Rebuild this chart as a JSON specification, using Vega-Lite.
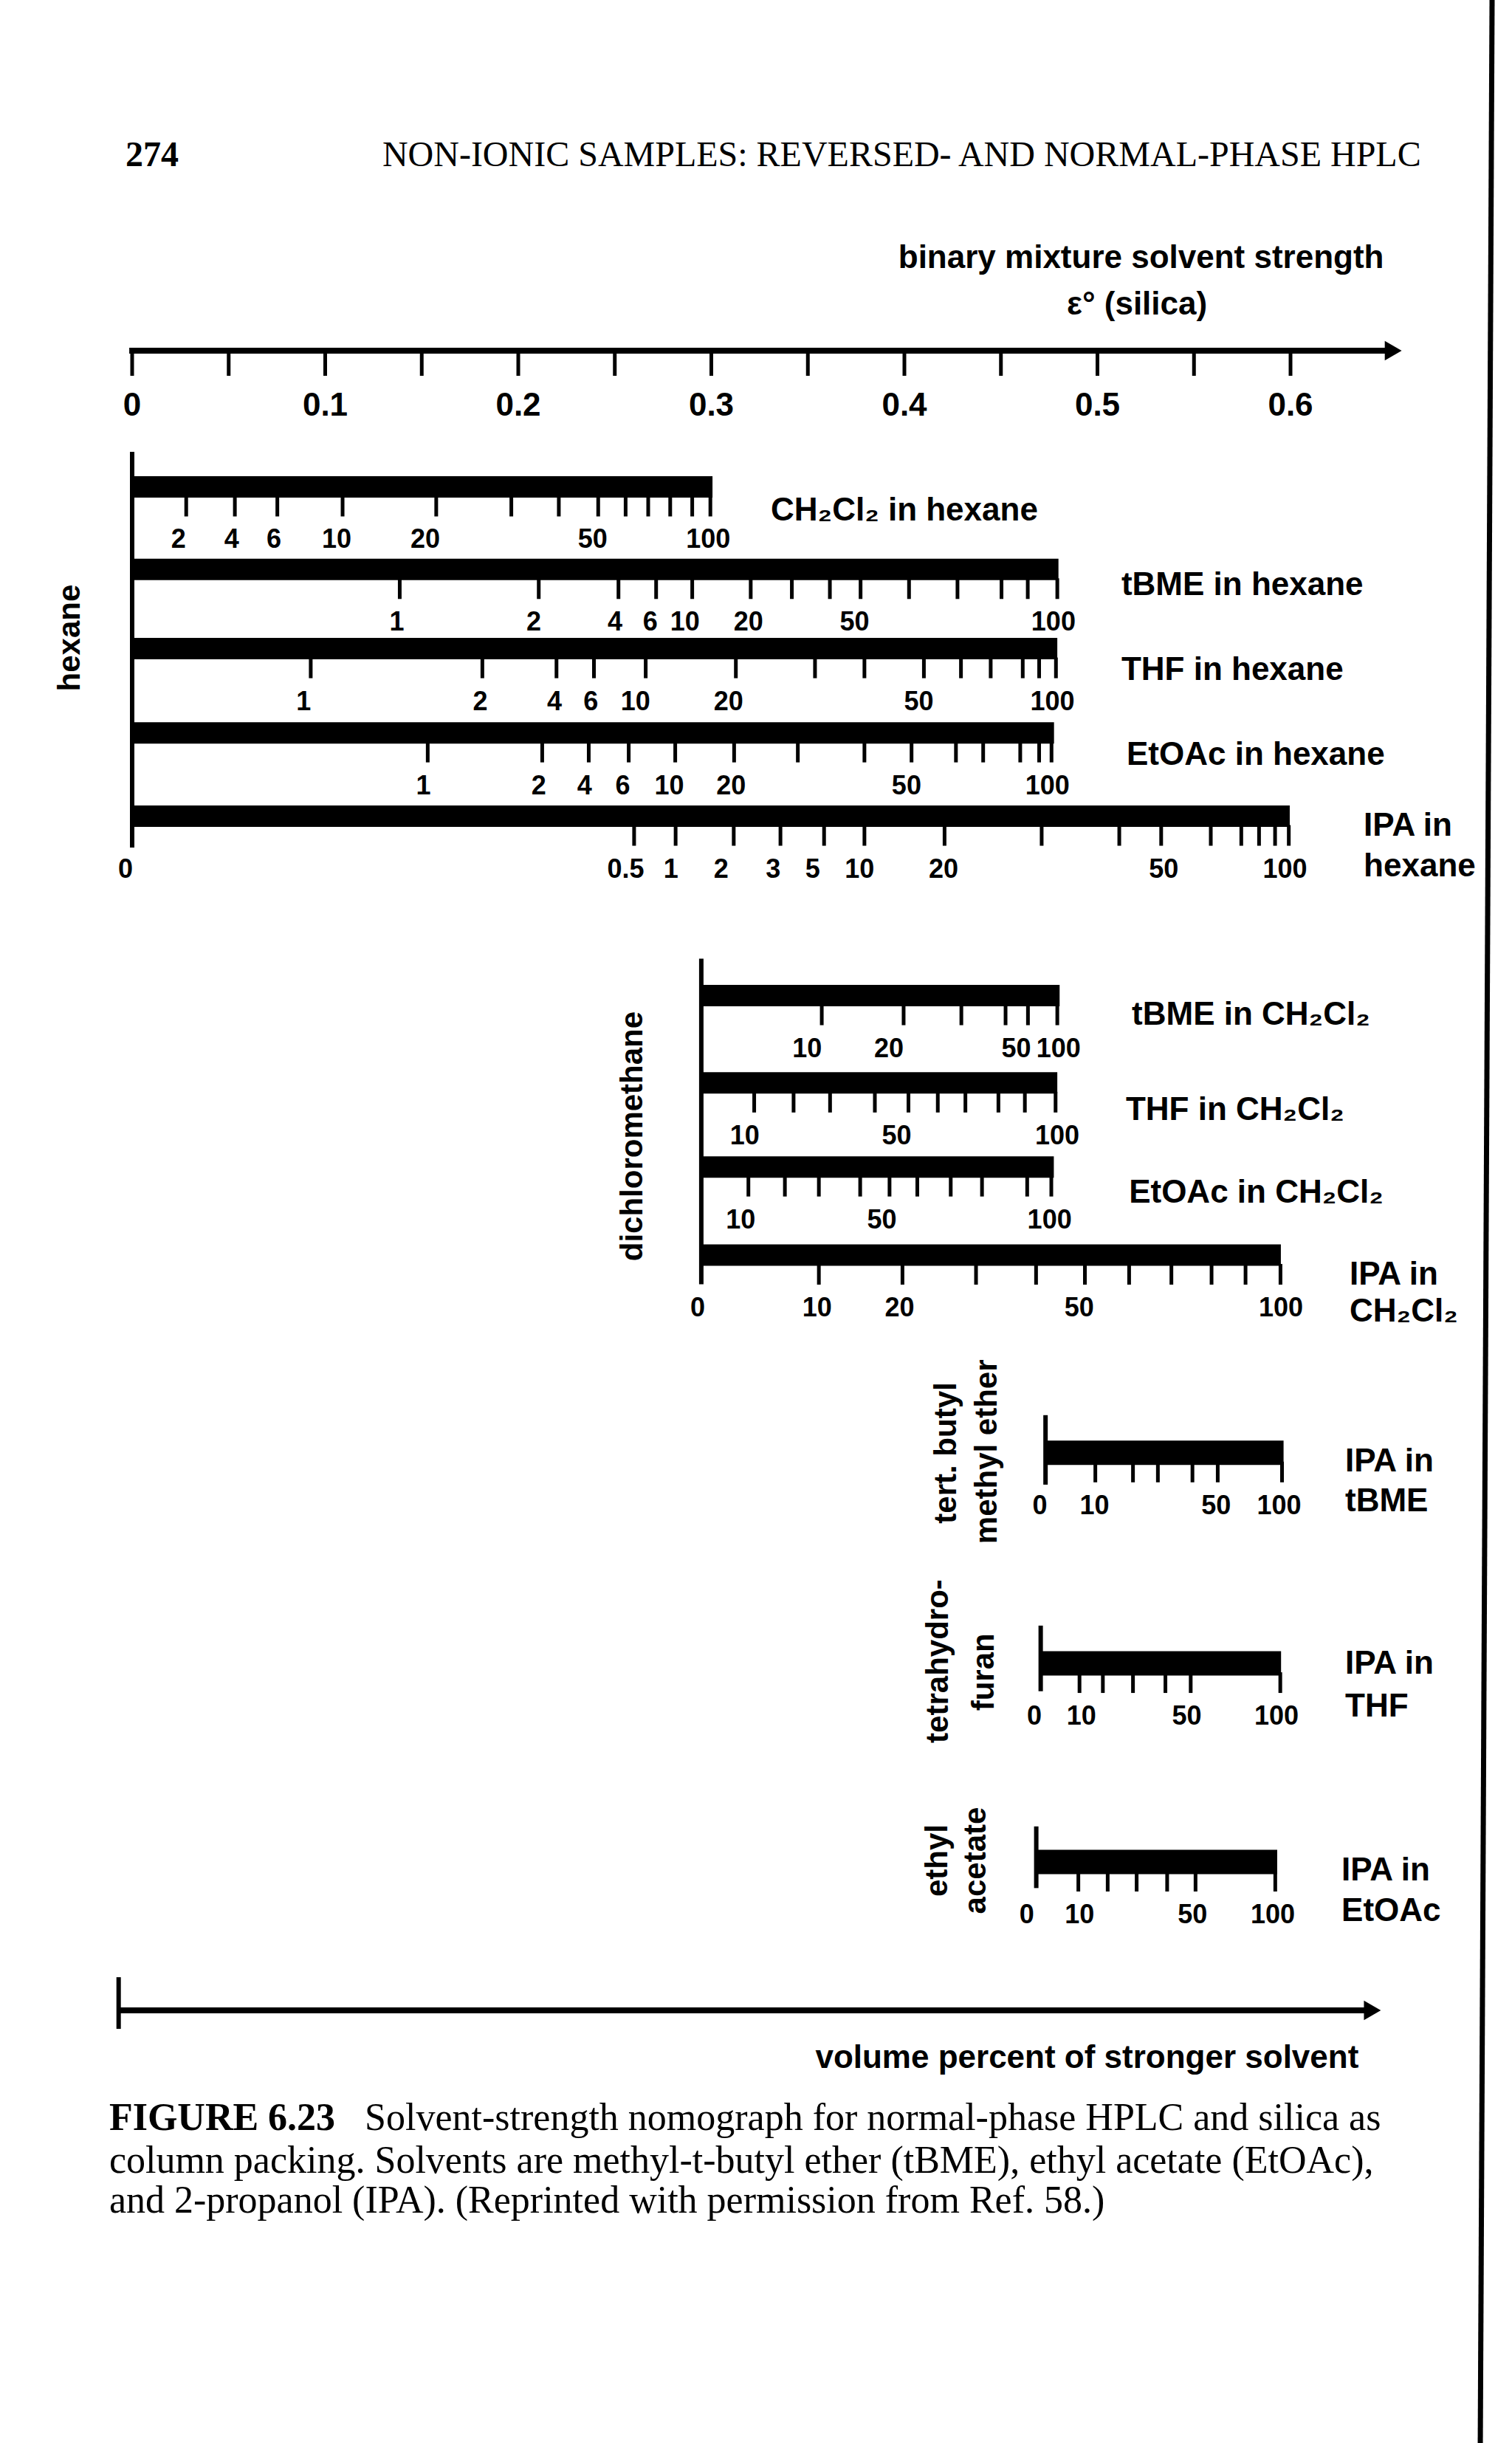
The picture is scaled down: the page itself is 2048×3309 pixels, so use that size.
{
  "$schema": "https://vega.github.io/schema/vega-lite/v6.json",
  "width": 2048,
  "height": 3309,
  "autosize": {"type": "none"},
  "padding": 0,
  "background": "white",
  "config": {"view": {"stroke": null}},
  "datasets": {
    "bars": [
      {"series": "CH2Cl2 in hexane", "eps": 0, "eps2": 0.3006, "row": 1},
      {"series": "tBME in hexane", "eps": 0, "eps2": 0.4798, "row": 2},
      {"series": "THF in hexane", "eps": 0, "eps2": 0.4792, "row": 2.96},
      {"series": "EtOAc in hexane", "eps": 0, "eps2": 0.4775, "row": 3.98},
      {"series": "IPA in hexane", "eps": 0, "eps2": 0.5996, "row": 4.99},
      {"series": "tBME in CH2Cl2", "eps": 0.2948, "eps2": 0.4804, "row": 7.164},
      {"series": "THF in CH2Cl2", "eps": 0.2948, "eps2": 0.4792, "row": 8.222},
      {"series": "EtOAc in CH2Cl2", "eps": 0.2948, "eps2": 0.4774, "row": 9.24},
      {"series": "IPA in CH2Cl2", "eps": 0.2948, "eps2": 0.595, "row": 10.308},
      {"series": "IPA in tBME", "eps": 0.4731, "eps2": 0.5964, "row": 12.703},
      {"series": "IPA in THF", "eps": 0.4706, "eps2": 0.5951, "row": 15.255},
      {"series": "IPA in EtOAc", "eps": 0.4683, "eps2": 0.5931, "row": 17.661}
    ],
    "sections": [
      {"solvent": "hexane", "eps": 0, "row": 0.575, "row2": 5.37},
      {"solvent": "dichloromethane", "eps": 0.2948, "row": 6.717, "row2": 10.662},
      {"solvent": "tBME", "eps": 0.4731, "row": 12.247, "row2": 13.089},
      {"solvent": "THF", "eps": 0.4706, "row": 14.797, "row2": 15.592},
      {"solvent": "EtOAc", "eps": 0.4683, "row": 17.23, "row2": 17.977}
    ],
    "ticks": [
      {"series": "CH2Cl2 in hexane", "pct": 2, "eps": 0.028, "row": 1},
      {"series": "CH2Cl2 in hexane", "pct": 4, "eps": 0.0532, "row": 1},
      {"series": "CH2Cl2 in hexane", "pct": 6, "eps": 0.0752, "row": 1},
      {"series": "CH2Cl2 in hexane", "pct": 10, "eps": 0.109, "row": 1},
      {"series": "CH2Cl2 in hexane", "pct": 20, "eps": 0.1575, "row": 1},
      {"series": "CH2Cl2 in hexane", "pct": 30, "eps": 0.1964, "row": 1},
      {"series": "CH2Cl2 in hexane", "pct": 40, "eps": 0.221, "row": 1},
      {"series": "CH2Cl2 in hexane", "pct": 50, "eps": 0.2414, "row": 1},
      {"series": "CH2Cl2 in hexane", "pct": 60, "eps": 0.2556, "row": 1},
      {"series": "CH2Cl2 in hexane", "pct": 70, "eps": 0.2673, "row": 1},
      {"series": "CH2Cl2 in hexane", "pct": 80, "eps": 0.2787, "row": 1},
      {"series": "CH2Cl2 in hexane", "pct": 90, "eps": 0.2901, "row": 1},
      {"series": "CH2Cl2 in hexane", "pct": 100, "eps": 0.2995, "row": 1},
      {"series": "tBME in hexane", "pct": 1, "eps": 0.1386, "row": 2},
      {"series": "tBME in hexane", "pct": 2, "eps": 0.2106, "row": 2},
      {"series": "tBME in hexane", "pct": 4, "eps": 0.2519, "row": 2},
      {"series": "tBME in hexane", "pct": 6, "eps": 0.2714, "row": 2},
      {"series": "tBME in hexane", "pct": 10, "eps": 0.2901, "row": 2},
      {"series": "tBME in hexane", "pct": 20, "eps": 0.3204, "row": 2},
      {"series": "tBME in hexane", "pct": 30, "eps": 0.3417, "row": 2},
      {"series": "tBME in hexane", "pct": 40, "eps": 0.3614, "row": 2},
      {"series": "tBME in hexane", "pct": 50, "eps": 0.3773, "row": 2},
      {"series": "tBME in hexane", "pct": 60, "eps": 0.4024, "row": 2},
      {"series": "tBME in hexane", "pct": 70, "eps": 0.4275, "row": 2},
      {"series": "tBME in hexane", "pct": 80, "eps": 0.4503, "row": 2},
      {"series": "tBME in hexane", "pct": 90, "eps": 0.4639, "row": 2},
      {"series": "tBME in hexane", "pct": 100, "eps": 0.4792, "row": 2},
      {"series": "THF in hexane", "pct": 1, "eps": 0.0925, "row": 2.96},
      {"series": "THF in hexane", "pct": 2, "eps": 0.1814, "row": 2.96},
      {"series": "THF in hexane", "pct": 4, "eps": 0.2198, "row": 2.96},
      {"series": "THF in hexane", "pct": 6, "eps": 0.2392, "row": 2.96},
      {"series": "THF in hexane", "pct": 10, "eps": 0.266, "row": 2.96},
      {"series": "THF in hexane", "pct": 20, "eps": 0.3127, "row": 2.96},
      {"series": "THF in hexane", "pct": 30, "eps": 0.3537, "row": 2.96},
      {"series": "THF in hexane", "pct": 40, "eps": 0.3793, "row": 2.96},
      {"series": "THF in hexane", "pct": 50, "eps": 0.4101, "row": 2.96},
      {"series": "THF in hexane", "pct": 60, "eps": 0.4293, "row": 2.96},
      {"series": "THF in hexane", "pct": 70, "eps": 0.4447, "row": 2.96},
      {"series": "THF in hexane", "pct": 80, "eps": 0.4613, "row": 2.96},
      {"series": "THF in hexane", "pct": 90, "eps": 0.4698, "row": 2.96},
      {"series": "THF in hexane", "pct": 100, "eps": 0.4785, "row": 2.96},
      {"series": "EtOAc in hexane", "pct": 1, "eps": 0.1531, "row": 3.98},
      {"series": "EtOAc in hexane", "pct": 2, "eps": 0.2124, "row": 3.98},
      {"series": "EtOAc in hexane", "pct": 4, "eps": 0.2365, "row": 3.98},
      {"series": "EtOAc in hexane", "pct": 6, "eps": 0.2572, "row": 3.98},
      {"series": "EtOAc in hexane", "pct": 10, "eps": 0.2813, "row": 3.98},
      {"series": "EtOAc in hexane", "pct": 20, "eps": 0.3118, "row": 3.98},
      {"series": "EtOAc in hexane", "pct": 30, "eps": 0.3448, "row": 3.98},
      {"series": "EtOAc in hexane", "pct": 40, "eps": 0.3793, "row": 3.98},
      {"series": "EtOAc in hexane", "pct": 50, "eps": 0.4037, "row": 3.98},
      {"series": "EtOAc in hexane", "pct": 60, "eps": 0.4267, "row": 3.98},
      {"series": "EtOAc in hexane", "pct": 70, "eps": 0.4408, "row": 3.98},
      {"series": "EtOAc in hexane", "pct": 80, "eps": 0.46, "row": 3.98},
      {"series": "EtOAc in hexane", "pct": 90, "eps": 0.4698, "row": 3.98},
      {"series": "EtOAc in hexane", "pct": 100, "eps": 0.4762, "row": 3.98},
      {"series": "IPA in hexane", "pct": 0.5, "eps": 0.26, "row": 4.99},
      {"series": "IPA in hexane", "pct": 1, "eps": 0.2815, "row": 4.99},
      {"series": "IPA in hexane", "pct": 2, "eps": 0.3116, "row": 4.99},
      {"series": "IPA in hexane", "pct": 3, "eps": 0.3358, "row": 4.99},
      {"series": "IPA in hexane", "pct": 5, "eps": 0.3584, "row": 4.99},
      {"series": "IPA in hexane", "pct": 10, "eps": 0.3793, "row": 4.99},
      {"series": "IPA in hexane", "pct": 20, "eps": 0.4208, "row": 4.99},
      {"series": "IPA in hexane", "pct": 30, "eps": 0.4711, "row": 4.99},
      {"series": "IPA in hexane", "pct": 40, "eps": 0.5113, "row": 4.99},
      {"series": "IPA in hexane", "pct": 50, "eps": 0.533, "row": 4.99},
      {"series": "IPA in hexane", "pct": 60, "eps": 0.5587, "row": 4.99},
      {"series": "IPA in hexane", "pct": 70, "eps": 0.5745, "row": 4.99},
      {"series": "IPA in hexane", "pct": 80, "eps": 0.5837, "row": 4.99},
      {"series": "IPA in hexane", "pct": 90, "eps": 0.592, "row": 4.99},
      {"series": "IPA in hexane", "pct": 100, "eps": 0.5991, "row": 4.99},
      {"series": "tBME in CH2Cl2", "pct": 10, "eps": 0.3572, "row": 7.164},
      {"series": "tBME in CH2Cl2", "pct": 20, "eps": 0.3996, "row": 7.164},
      {"series": "tBME in CH2Cl2", "pct": 30, "eps": 0.4295, "row": 7.164},
      {"series": "tBME in CH2Cl2", "pct": 40, "eps": 0.4524, "row": 7.164},
      {"series": "tBME in CH2Cl2", "pct": 50, "eps": 0.464, "row": 7.164},
      {"series": "tBME in CH2Cl2", "pct": 100, "eps": 0.4792, "row": 7.164},
      {"series": "THF in CH2Cl2", "pct": 10, "eps": 0.3222, "row": 8.222},
      {"series": "THF in CH2Cl2", "pct": 20, "eps": 0.3426, "row": 8.222},
      {"series": "THF in CH2Cl2", "pct": 30, "eps": 0.3615, "row": 8.222},
      {"series": "THF in CH2Cl2", "pct": 40, "eps": 0.3847, "row": 8.222},
      {"series": "THF in CH2Cl2", "pct": 50, "eps": 0.4021, "row": 8.222},
      {"series": "THF in CH2Cl2", "pct": 60, "eps": 0.4173, "row": 8.222},
      {"series": "THF in CH2Cl2", "pct": 70, "eps": 0.4316, "row": 8.222},
      {"series": "THF in CH2Cl2", "pct": 80, "eps": 0.4487, "row": 8.222},
      {"series": "THF in CH2Cl2", "pct": 90, "eps": 0.4624, "row": 8.222},
      {"series": "THF in CH2Cl2", "pct": 100, "eps": 0.4783, "row": 8.222},
      {"series": "EtOAc in CH2Cl2", "pct": 10, "eps": 0.3192, "row": 9.24},
      {"series": "EtOAc in CH2Cl2", "pct": 20, "eps": 0.3381, "row": 9.24},
      {"series": "EtOAc in CH2Cl2", "pct": 30, "eps": 0.3557, "row": 9.24},
      {"series": "EtOAc in CH2Cl2", "pct": 40, "eps": 0.3771, "row": 9.24},
      {"series": "EtOAc in CH2Cl2", "pct": 50, "eps": 0.3923, "row": 9.24},
      {"series": "EtOAc in CH2Cl2", "pct": 60, "eps": 0.4067, "row": 9.24},
      {"series": "EtOAc in CH2Cl2", "pct": 70, "eps": 0.424, "row": 9.24},
      {"series": "EtOAc in CH2Cl2", "pct": 80, "eps": 0.4402, "row": 9.24},
      {"series": "EtOAc in CH2Cl2", "pct": 90, "eps": 0.4636, "row": 9.24},
      {"series": "EtOAc in CH2Cl2", "pct": 100, "eps": 0.4761, "row": 9.24},
      {"series": "IPA in CH2Cl2", "pct": 10, "eps": 0.3557, "row": 10.308},
      {"series": "IPA in CH2Cl2", "pct": 20, "eps": 0.399, "row": 10.308},
      {"series": "IPA in CH2Cl2", "pct": 30, "eps": 0.4371, "row": 10.308},
      {"series": "IPA in CH2Cl2", "pct": 40, "eps": 0.4682, "row": 10.308},
      {"series": "IPA in CH2Cl2", "pct": 50, "eps": 0.4935, "row": 10.308},
      {"series": "IPA in CH2Cl2", "pct": 60, "eps": 0.5164, "row": 10.308},
      {"series": "IPA in CH2Cl2", "pct": 70, "eps": 0.5383, "row": 10.308},
      {"series": "IPA in CH2Cl2", "pct": 80, "eps": 0.5591, "row": 10.308},
      {"series": "IPA in CH2Cl2", "pct": 90, "eps": 0.5767, "row": 10.308},
      {"series": "IPA in CH2Cl2", "pct": 100, "eps": 0.5948, "row": 10.308},
      {"series": "IPA in tBME", "pct": 10, "eps": 0.4989, "row": 12.703},
      {"series": "IPA in tBME", "pct": 20, "eps": 0.5184, "row": 12.703},
      {"series": "IPA in tBME", "pct": 30, "eps": 0.5313, "row": 12.703},
      {"series": "IPA in tBME", "pct": 40, "eps": 0.5492, "row": 12.703},
      {"series": "IPA in tBME", "pct": 50, "eps": 0.5623, "row": 12.703},
      {"series": "IPA in tBME", "pct": 100, "eps": 0.5956, "row": 12.703},
      {"series": "IPA in THF", "pct": 10, "eps": 0.4907, "row": 15.255},
      {"series": "IPA in THF", "pct": 20, "eps": 0.5028, "row": 15.255},
      {"series": "IPA in THF", "pct": 30, "eps": 0.5184, "row": 15.255},
      {"series": "IPA in THF", "pct": 40, "eps": 0.5352, "row": 15.255},
      {"series": "IPA in THF", "pct": 50, "eps": 0.5483, "row": 15.255},
      {"series": "IPA in THF", "pct": 100, "eps": 0.5947, "row": 15.255},
      {"series": "IPA in EtOAc", "pct": 10, "eps": 0.4901, "row": 17.661},
      {"series": "IPA in EtOAc", "pct": 20, "eps": 0.5053, "row": 17.661},
      {"series": "IPA in EtOAc", "pct": 30, "eps": 0.5203, "row": 17.661},
      {"series": "IPA in EtOAc", "pct": 40, "eps": 0.5361, "row": 17.661},
      {"series": "IPA in EtOAc", "pct": 50, "eps": 0.5508, "row": 17.661},
      {"series": "IPA in EtOAc", "pct": 100, "eps": 0.5921, "row": 17.661}
    ],
    "ticklabels": [
      {"series": "CH2Cl2 in hexane", "text": "2", "eps": 0.024, "row": 1},
      {"series": "CH2Cl2 in hexane", "text": "4", "eps": 0.0515, "row": 1},
      {"series": "CH2Cl2 in hexane", "text": "6", "eps": 0.0734, "row": 1},
      {"series": "CH2Cl2 in hexane", "text": "10", "eps": 0.1059, "row": 1},
      {"series": "CH2Cl2 in hexane", "text": "20", "eps": 0.1518, "row": 1},
      {"series": "CH2Cl2 in hexane", "text": "50", "eps": 0.2385, "row": 1},
      {"series": "CH2Cl2 in hexane", "text": "100", "eps": 0.2984, "row": 1},
      {"series": "tBME in hexane", "text": "1", "eps": 0.1371, "row": 2},
      {"series": "tBME in hexane", "text": "2", "eps": 0.208, "row": 2},
      {"series": "tBME in hexane", "text": "4", "eps": 0.2501, "row": 2},
      {"series": "tBME in hexane", "text": "6", "eps": 0.2684, "row": 2},
      {"series": "tBME in hexane", "text": "10", "eps": 0.2863, "row": 2},
      {"series": "tBME in hexane", "text": "20", "eps": 0.3192, "row": 2},
      {"series": "tBME in hexane", "text": "50", "eps": 0.3742, "row": 2},
      {"series": "tBME in hexane", "text": "100", "eps": 0.4772, "row": 2},
      {"series": "THF in hexane", "text": "1", "eps": 0.0888, "row": 2.96},
      {"series": "THF in hexane", "text": "2", "eps": 0.1803, "row": 2.96},
      {"series": "THF in hexane", "text": "4", "eps": 0.2187, "row": 2.96},
      {"series": "THF in hexane", "text": "6", "eps": 0.2376, "row": 2.96},
      {"series": "THF in hexane", "text": "10", "eps": 0.2607, "row": 2.96},
      {"series": "THF in hexane", "text": "20", "eps": 0.3089, "row": 2.96},
      {"series": "THF in hexane", "text": "50", "eps": 0.4075, "row": 2.96},
      {"series": "THF in hexane", "text": "100", "eps": 0.4767, "row": 2.96},
      {"series": "EtOAc in hexane", "text": "1", "eps": 0.1509, "row": 3.98},
      {"series": "EtOAc in hexane", "text": "2", "eps": 0.2106, "row": 3.98},
      {"series": "EtOAc in hexane", "text": "4", "eps": 0.2343, "row": 3.98},
      {"series": "EtOAc in hexane", "text": "6", "eps": 0.2541, "row": 3.98},
      {"series": "EtOAc in hexane", "text": "10", "eps": 0.2782, "row": 3.98},
      {"series": "EtOAc in hexane", "text": "20", "eps": 0.3102, "row": 3.98},
      {"series": "EtOAc in hexane", "text": "50", "eps": 0.4011, "row": 3.98},
      {"series": "EtOAc in hexane", "text": "100", "eps": 0.4741, "row": 3.98},
      {"series": "IPA in hexane", "text": "0", "eps": -0.0034, "row": 4.99},
      {"series": "IPA in hexane", "text": "0.5", "eps": 0.2556, "row": 4.99},
      {"series": "IPA in hexane", "text": "1", "eps": 0.2791, "row": 4.99},
      {"series": "IPA in hexane", "text": "2", "eps": 0.3051, "row": 4.99},
      {"series": "IPA in hexane", "text": "3", "eps": 0.332, "row": 4.99},
      {"series": "IPA in hexane", "text": "5", "eps": 0.3525, "row": 4.99},
      {"series": "IPA in hexane", "text": "10", "eps": 0.3768, "row": 4.99},
      {"series": "IPA in hexane", "text": "20", "eps": 0.4203, "row": 4.99},
      {"series": "IPA in hexane", "text": "50", "eps": 0.5343, "row": 4.99},
      {"series": "IPA in hexane", "text": "100", "eps": 0.5971, "row": 4.99},
      {"series": "tBME in CH2Cl2", "text": "10", "eps": 0.3496, "row": 7.164},
      {"series": "tBME in CH2Cl2", "text": "20", "eps": 0.392, "row": 7.164},
      {"series": "tBME in CH2Cl2", "text": "50", "eps": 0.4579, "row": 7.164},
      {"series": "tBME in CH2Cl2", "text": "100", "eps": 0.4798, "row": 7.164},
      {"series": "THF in CH2Cl2", "text": "10", "eps": 0.3173, "row": 8.222},
      {"series": "THF in CH2Cl2", "text": "50", "eps": 0.396, "row": 8.222},
      {"series": "THF in CH2Cl2", "text": "100", "eps": 0.4792, "row": 8.222},
      {"series": "EtOAc in CH2Cl2", "text": "10", "eps": 0.3152, "row": 9.24},
      {"series": "EtOAc in CH2Cl2", "text": "50", "eps": 0.3883, "row": 9.24},
      {"series": "EtOAc in CH2Cl2", "text": "100", "eps": 0.4752, "row": 9.24},
      {"series": "IPA in CH2Cl2", "text": "0", "eps": 0.2929, "row": 10.308},
      {"series": "IPA in CH2Cl2", "text": "10", "eps": 0.3548, "row": 10.308},
      {"series": "IPA in CH2Cl2", "text": "20", "eps": 0.3975, "row": 10.308},
      {"series": "IPA in CH2Cl2", "text": "50", "eps": 0.4905, "row": 10.308},
      {"series": "IPA in CH2Cl2", "text": "100", "eps": 0.595, "row": 10.308},
      {"series": "IPA in tBME", "text": "0", "eps": 0.4702, "row": 12.703},
      {"series": "IPA in tBME", "text": "10", "eps": 0.4985, "row": 12.703},
      {"series": "IPA in tBME", "text": "50", "eps": 0.5615, "row": 12.703},
      {"series": "IPA in tBME", "text": "100", "eps": 0.5941, "row": 12.703},
      {"series": "IPA in THF", "text": "0", "eps": 0.4673, "row": 15.255},
      {"series": "IPA in THF", "text": "10", "eps": 0.4917, "row": 15.255},
      {"series": "IPA in THF", "text": "50", "eps": 0.5463, "row": 15.255},
      {"series": "IPA in THF", "text": "100", "eps": 0.5927, "row": 15.255},
      {"series": "IPA in EtOAc", "text": "0", "eps": 0.4634, "row": 17.661},
      {"series": "IPA in EtOAc", "text": "10", "eps": 0.4907, "row": 17.661},
      {"series": "IPA in EtOAc", "text": "50", "eps": 0.5492, "row": 17.661},
      {"series": "IPA in EtOAc", "text": "100", "eps": 0.5908, "row": 17.661}
    ],
    "sidelabels": [
      {"text": "CH₂Cl₂  in hexane", "eps": 0.3308, "row": 1.291},
      {"text": "tBME in hexane", "eps": 0.5124, "row": 2.195},
      {"text": "THF in hexane", "eps": 0.5124, "row": 3.224},
      {"text": "EtOAc in hexane", "eps": 0.5151, "row": 4.253},
      {"text": "IPA in", "eps": 0.6379, "row": 5.111},
      {"text": "hexane", "eps": 0.6379, "row": 5.6},
      {"text": "tBME in CH₂Cl₂", "eps": 0.5178, "row": 7.4},
      {"text": "THF in CH₂Cl₂", "eps": 0.5147, "row": 8.554},
      {"text": "EtOAc in CH₂Cl₂", "eps": 0.5163, "row": 9.556},
      {"text": "IPA in", "eps": 0.6306, "row": 10.549},
      {"text": "CH₂Cl₂", "eps": 0.6306, "row": 10.996},
      {"text": "IPA in", "eps": 0.6283, "row": 12.808},
      {"text": "tBME", "eps": 0.6283, "row": 13.296},
      {"text": "IPA in", "eps": 0.6283, "row": 15.263},
      {"text": "THF", "eps": 0.6283, "row": 15.779},
      {"text": "IPA in", "eps": 0.6264, "row": 17.768},
      {"text": "EtOAc", "eps": 0.6264, "row": 18.26}
    ],
    "rotlabels": [
      {"text": "hexane", "eps": -0.0321, "row": 2.83},
      {"text": "dichloromethane", "eps": 0.2593, "row": 8.868},
      {"text": "tert.  butyl", "eps": 0.4218, "row": 12.705},
      {"text": "methyl ether", "eps": 0.4428, "row": 12.69},
      {"text": "tetrahydro-", "eps": 0.4176, "row": 15.228},
      {"text": "furan", "eps": 0.4413, "row": 15.36},
      {"text": "ethyl", "eps": 0.4172, "row": 17.643},
      {"text": "acetate", "eps": 0.4371, "row": 17.643}
    ],
    "epsaxis": [
      {"eps": 0, "label": "0", "row": -0.6504},
      {"eps": 0.05, "label": "", "row": -0.6504},
      {"eps": 0.1, "label": "0.1", "row": -0.6504},
      {"eps": 0.15, "label": "", "row": -0.6504},
      {"eps": 0.2, "label": "0.2", "row": -0.6504},
      {"eps": 0.25, "label": "", "row": -0.6504},
      {"eps": 0.3, "label": "0.3", "row": -0.6504},
      {"eps": 0.35, "label": "", "row": -0.6504},
      {"eps": 0.4, "label": "0.4", "row": -0.6504},
      {"eps": 0.45, "label": "", "row": -0.6504},
      {"eps": 0.5, "label": "0.5", "row": -0.6504},
      {"eps": 0.55, "label": "", "row": -0.6504},
      {"eps": 0.6, "label": "0.6", "row": -0.6504}
    ],
    "arrows": [
      {"name": "epsilon axis", "eps": -0.0015, "eps2": 0.6532, "row": -0.6504},
      {"name": "volume percent axis", "eps": -0.007, "eps2": 0.6424, "row": 19.459}
    ]
  },
  "layer": [
    {
      "data": {"values": [{"eps": 0.7044, "eps2": 0.6983, "row": -4.8994, "row2": 24.7007}]},
      "mark": {"type": "rule", "strokeWidth": 7, "color": "#000"},
      "encoding": {
        "x": {"field": "eps", "type": "quantitative", "scale": {"domain": [-0.06845, 0.71472], "nice": false, "zero": false}, "axis": null},
        "x2": {"field": "eps2"},
        "y": {"field": "row", "type": "quantitative", "scale": {"domain": [-4.8994, 24.7007], "reverse": true, "nice": false, "zero": false}, "axis": null},
        "y2": {"field": "row2"}
      }
    },
    {
      "data": {"name": "arrows"},
      "mark": {"type": "rule", "strokeWidth": 8, "color": "#000", "strokeCap": "butt"},
      "encoding": {
        "x": {"field": "eps", "type": "quantitative", "scale": {"domain": [-0.06845, 0.71472], "nice": false, "zero": false}, "axis": null},
        "x2": {"field": "eps2"},
        "y": {"field": "row", "type": "quantitative", "scale": {"domain": [-4.8994, 24.7007], "reverse": true, "nice": false, "zero": false}, "axis": null}
      }
    },
    {
      "data": {"name": "arrows"},
      "mark": {"type": "point", "shape": "triangle-right", "size": 700, "filled": true, "color": "#000", "opacity": 1},
      "encoding": {
        "x": {"field": "eps2", "type": "quantitative", "scale": {"domain": [-0.06845, 0.71472], "nice": false, "zero": false}, "axis": null},
        "y": {"field": "row", "type": "quantitative", "scale": {"domain": [-4.8994, 24.7007], "reverse": true, "nice": false, "zero": false}, "axis": null}
      }
    },
    {
      "data": {"values": [{"eps": -0.007, "row": 19.057, "row2": 19.683}]},
      "mark": {"type": "rule", "strokeWidth": 6, "color": "#000"},
      "encoding": {
        "x": {"field": "eps", "type": "quantitative", "scale": {"domain": [-0.06845, 0.71472], "nice": false, "zero": false}, "axis": null},
        "y": {"field": "row", "type": "quantitative", "scale": {"domain": [-4.8994, 24.7007], "reverse": true, "nice": false, "zero": false}, "axis": null},
        "y2": {"field": "row2"}
      }
    },
    {
      "data": {"name": "epsaxis"},
      "mark": {"type": "rule", "strokeWidth": 5, "color": "#000", "y2Offset": 34},
      "encoding": {
        "x": {"field": "eps", "type": "quantitative", "scale": {"domain": [-0.06845, 0.71472], "nice": false, "zero": false}, "axis": null},
        "y": {"field": "row", "type": "quantitative", "scale": {"domain": [-4.8994, 24.7007], "reverse": true, "nice": false, "zero": false}, "axis": null},
        "y2": {"field": "row"}
      }
    },
    {
      "data": {"name": "epsaxis"},
      "mark": {"type": "text", "font": "Liberation Sans", "fontWeight": "bold", "fontSize": 44, "align": "center", "baseline": "middle", "yOffset": 75, "color": "#000"},
      "encoding": {
        "x": {"field": "eps", "type": "quantitative", "scale": {"domain": [-0.06845, 0.71472], "nice": false, "zero": false}, "axis": null},
        "y": {"field": "row", "type": "quantitative", "scale": {"domain": [-4.8994, 24.7007], "reverse": true, "nice": false, "zero": false}, "axis": null},
        "text": {"field": "label"}
      }
    },
    {
      "data": {"name": "sections"},
      "mark": {"type": "rule", "strokeWidth": 6, "color": "#000"},
      "encoding": {
        "x": {"field": "eps", "type": "quantitative", "scale": {"domain": [-0.06845, 0.71472], "nice": false, "zero": false}, "axis": null},
        "y": {"field": "row", "type": "quantitative", "scale": {"domain": [-4.8994, 24.7007], "reverse": true, "nice": false, "zero": false}, "axis": null},
        "y2": {"field": "row2"}
      }
    },
    {
      "data": {"name": "bars"},
      "transform": [{"filter": "datum.row < 12"}],
      "mark": {"type": "rule", "strokeWidth": 29, "strokeCap": "butt", "color": "#000"},
      "encoding": {
        "x": {"field": "eps", "type": "quantitative", "scale": {"domain": [-0.06845, 0.71472], "nice": false, "zero": false}, "axis": null},
        "x2": {"field": "eps2"},
        "y": {"field": "row", "type": "quantitative", "scale": {"domain": [-4.8994, 24.7007], "reverse": true, "nice": false, "zero": false}, "axis": null}
      }
    },
    {
      "data": {"name": "bars"},
      "transform": [{"filter": "datum.row > 12"}],
      "mark": {"type": "rule", "strokeWidth": 33, "strokeCap": "butt", "color": "#000"},
      "encoding": {
        "x": {"field": "eps", "type": "quantitative", "scale": {"domain": [-0.06845, 0.71472], "nice": false, "zero": false}, "axis": null},
        "x2": {"field": "eps2"},
        "y": {"field": "row", "type": "quantitative", "scale": {"domain": [-4.8994, 24.7007], "reverse": true, "nice": false, "zero": false}, "axis": null}
      }
    },
    {
      "data": {"name": "ticks"},
      "mark": {"type": "rule", "strokeWidth": 5, "color": "#000", "yOffset": 12, "y2Offset": 40},
      "encoding": {
        "x": {"field": "eps", "type": "quantitative", "scale": {"domain": [-0.06845, 0.71472], "nice": false, "zero": false}, "axis": null},
        "y": {"field": "row", "type": "quantitative", "scale": {"domain": [-4.8994, 24.7007], "reverse": true, "nice": false, "zero": false}, "axis": null},
        "y2": {"field": "row"}
      }
    },
    {
      "data": {"name": "ticklabels"},
      "mark": {"type": "text", "font": "Liberation Sans", "fontWeight": "bold", "fontSize": 36, "align": "center", "baseline": "middle", "yOffset": 72, "color": "#000"},
      "encoding": {
        "x": {"field": "eps", "type": "quantitative", "scale": {"domain": [-0.06845, 0.71472], "nice": false, "zero": false}, "axis": null},
        "y": {"field": "row", "type": "quantitative", "scale": {"domain": [-4.8994, 24.7007], "reverse": true, "nice": false, "zero": false}, "axis": null},
        "text": {"field": "text"}
      }
    },
    {
      "data": {"name": "sidelabels"},
      "mark": {"type": "text", "font": "Liberation Sans", "fontWeight": "bold", "fontSize": 44, "align": "left", "baseline": "middle", "color": "#000"},
      "encoding": {
        "x": {"field": "eps", "type": "quantitative", "scale": {"domain": [-0.06845, 0.71472], "nice": false, "zero": false}, "axis": null},
        "y": {"field": "row", "type": "quantitative", "scale": {"domain": [-4.8994, 24.7007], "reverse": true, "nice": false, "zero": false}, "axis": null},
        "text": {"field": "text"}
      }
    },
    {
      "data": {"name": "rotlabels"},
      "mark": {"type": "text", "font": "Liberation Sans", "fontWeight": "bold", "fontSize": 42, "align": "center", "baseline": "middle", "angle": 270, "color": "#000"},
      "encoding": {
        "x": {"field": "eps", "type": "quantitative", "scale": {"domain": [-0.06845, 0.71472], "nice": false, "zero": false}, "axis": null},
        "y": {"field": "row", "type": "quantitative", "scale": {"domain": [-4.8994, 24.7007], "reverse": true, "nice": false, "zero": false}, "axis": null},
        "text": {"field": "text"}
      }
    },
    {
      "data": {"values": [
        {"text": "binary mixture solvent strength", "eps": 0.5226, "row": -1.769},
        {"text": "ε° (silica)", "eps": 0.5205, "row": -1.205},
        {"text": "volume percent of stronger solvent", "eps": 0.4946, "row": 20.039}
      ]},
      "mark": {"type": "text", "font": "Liberation Sans", "fontWeight": "bold", "fontSize": 44, "align": "center", "baseline": "middle", "color": "#000"},
      "encoding": {
        "x": {"field": "eps", "type": "quantitative", "scale": {"domain": [-0.06845, 0.71472], "nice": false, "zero": false}, "axis": null},
        "y": {"field": "row", "type": "quantitative", "scale": {"domain": [-4.8994, 24.7007], "reverse": true, "nice": false, "zero": false}, "axis": null},
        "text": {"field": "text"}
      }
    },
    {
      "data": {"values": [
        {"text": "274", "eps": -0.0034, "row": -3.012}
      ]},
      "mark": {"type": "text", "font": "Liberation Serif", "fontWeight": "bold", "fontSize": 48, "align": "left", "baseline": "middle", "color": "#000"},
      "encoding": {
        "x": {"field": "eps", "type": "quantitative", "scale": {"domain": [-0.06845, 0.71472], "nice": false, "zero": false}, "axis": null},
        "y": {"field": "row", "type": "quantitative", "scale": {"domain": [-4.8994, 24.7007], "reverse": true, "nice": false, "zero": false}, "axis": null},
        "text": {"field": "text"}
      }
    },
    {
      "data": {"values": [
        {"text": "NON-IONIC SAMPLES: REVERSED- AND NORMAL-PHASE HPLC", "eps": 0.1296, "row": -3.012}
      ]},
      "mark": {"type": "text", "font": "Liberation Serif", "fontSize": 48, "align": "left", "baseline": "middle", "color": "#000"},
      "encoding": {
        "x": {"field": "eps", "type": "quantitative", "scale": {"domain": [-0.06845, 0.71472], "nice": false, "zero": false}, "axis": null},
        "y": {"field": "row", "type": "quantitative", "scale": {"domain": [-4.8994, 24.7007], "reverse": true, "nice": false, "zero": false}, "axis": null},
        "text": {"field": "text"}
      }
    },
    {
      "data": {"values": [
        {"text": "FIGURE 6.23", "eps": -0.0119, "row": 20.764}
      ]},
      "mark": {"type": "text", "font": "Liberation Serif", "fontWeight": "bold", "fontSize": 52, "align": "left", "baseline": "middle", "color": "#000"},
      "encoding": {
        "x": {"field": "eps", "type": "quantitative", "scale": {"domain": [-0.06845, 0.71472], "nice": false, "zero": false}, "axis": null},
        "y": {"field": "row", "type": "quantitative", "scale": {"domain": [-4.8994, 24.7007], "reverse": true, "nice": false, "zero": false}, "axis": null},
        "text": {"field": "text"}
      }
    },
    {
      "data": {"values": [
        {"text": "Solvent-strength nomograph for normal-phase HPLC and silica as", "eps": 0.1205, "row": 20.764},
        {"text": "column packing. Solvents are methyl-t-butyl ether (tBME), ethyl acetate (EtOAc),", "eps": -0.0119, "row": 21.283},
        {"text": "and 2-propanol (IPA). (Reprinted with permission from Ref. 58.)", "eps": -0.0119, "row": 21.766}
      ]},
      "mark": {"type": "text", "font": "Liberation Serif", "fontSize": 52, "align": "left", "baseline": "middle", "color": "#000"},
      "encoding": {
        "x": {"field": "eps", "type": "quantitative", "scale": {"domain": [-0.06845, 0.71472], "nice": false, "zero": false}, "axis": null},
        "y": {"field": "row", "type": "quantitative", "scale": {"domain": [-4.8994, 24.7007], "reverse": true, "nice": false, "zero": false}, "axis": null},
        "text": {"field": "text"}
      }
    }
  ]
}
